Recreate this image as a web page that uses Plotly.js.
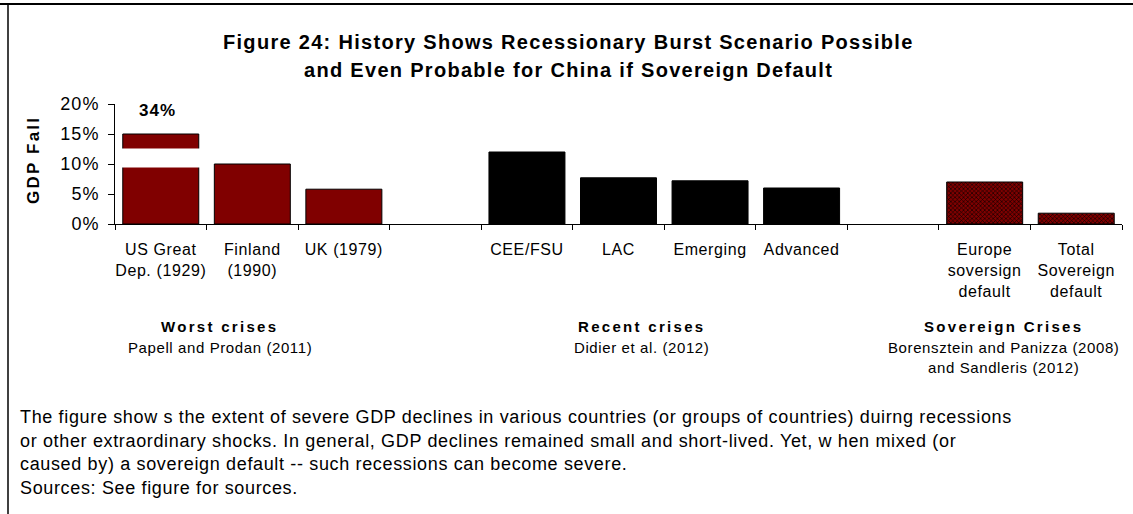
<!DOCTYPE html>
<html>
<head>
<meta charset="utf-8">
<script src="https://cdn.plot.ly/plotly-3.0.1.min.js"></script>
<style>
html,body{margin:0;padding:0;background:#fff;}
#chart{width:1133px;height:514px;}
#chart .xtick text{letter-spacing:0.6px;}
#chart .ytick text{letter-spacing:1px;}
</style>
</head>
<body>
<div id="chart"></div>
<script>
// ---- data ----
var categories = ["US Great<br>Dep. (1929)", "Finland<br>(1990)", "UK (1979)", " ",
  "CEE/FSU", "LAC", "Emerging", "Advanced", "  ",
  "Europe<br>soversign<br>default", "Total<br>Sovereign<br>default"];

var worstCats = ["US Great<br>Dep. (1929)", "Finland<br>(1990)", "UK (1979)"];
var worstVals = [15, 10, 5.8];          // US bar is truncated (true value 34%)
var worstLabels = ["34%", "", ""];

var recentCats = ["CEE/FSU", "LAC", "Emerging", "Advanced"];
var recentVals = [12, 7.7, 7.2, 6.0];

var sovCats = ["Europe<br>soversign<br>default", "Total<br>Sovereign<br>default"];
var sovVals = [7.0, 1.8];

var yTicks = [0, 5, 10, 15, 20];

var groupTitles = ["Worst crises", "Recent crises", "Sovereign Crises"];
var groupSources = ["Papell and Prodan (2011)", "Didier et al. (2012)",
  "Borensztein and Panizza (2008)<br>and Sandleris (2012)"];

var titleLines = ["Figure 24: History Shows Recessionary Burst Scenario Possible",
  "and Even Probable for China if Sovereign Default"];

var noteLines = [
  "The figure show s the extent of severe GDP declines in various countries (or groups of countries) duirng recessions",
  "or other extraordinary shocks. In general, GDP declines remained small and short-lived. Yet, w hen mixed (or",
  "caused by) a sovereign default -- such recessions can become severe.",
  "Sources: See figure for sources."
];

// ---- styling ----
var FONT = "Arial, 'Liberation Sans', sans-serif";
var RED = "#800000";
function sp(t, px) { return '<span style="letter-spacing:' + px + 'px">' + t + '</span>'; }

var traces = [
  {type: "bar", x: worstCats, y: worstVals, marker: {color: RED, line: {color: "#000", width: 1}},
   hoverinfo: "x+y"},
  {type: "bar", x: recentCats, y: recentVals, marker: {color: "#000", line: {color: "#000", width: 1}},
   hoverinfo: "x+y"},
  {type: "bar", x: sovCats, y: sovVals,
   marker: {color: RED, line: {color: "#000", width: 1},
            pattern: {shape: "x", fgcolor: "#000", bgcolor: RED, size: 3, solidity: 0.35}},
   hoverinfo: "x+y"}
];

var annotations = [];
// title
var TITLE_X = (568 - 115) / 1007;
annotations.push({xref: "paper", yref: "paper", x: TITLE_X, y: 1, yshift: 62, xanchor: "center", yanchor: "middle",
  text: sp(titleLines[0], 1.3), showarrow: false, font: {family: FONT, size: 20, color: "#000", weight: "bold"}});
annotations.push({xref: "paper", yref: "paper", x: TITLE_X, y: 1, yshift: 34, xanchor: "center", yanchor: "middle",
  text: sp(titleLines[1], 1.3), showarrow: false, font: {family: FONT, size: 20, color: "#000", weight: "bold"}});
// y title
annotations.push({xref: "paper", yref: "paper", x: 0, xshift: -82, y: 0.5, yshift: 4, xanchor: "center", yanchor: "middle",
  text: sp("GDP Fall", 2.2), textangle: -90,
  showarrow: false, font: {family: FONT, size: 17, color: "#000", weight: "bold"}});
// bar labels
worstLabels.forEach(function (t, i) {
  if (t) annotations.push({x: worstCats[i], y: 20, yref: "y", xref: "x", yshift: -6, xshift: -3,
    xanchor: "center", yanchor: "middle", text: sp(t, 1), showarrow: false,
    font: {family: FONT, size: 17, color: "#000", weight: "bold"}});
});
// group labels
var groupX = [(219.5 - 115) / 1007, (641 - 115) / 1007, (1003 - 115) / 1007];
groupTitles.forEach(function (t, i) {
  annotations.push({xref: "paper", yref: "paper", x: groupX[i], y: 0, yshift: -102, text: sp(t, 2.3), showarrow: false,
    xanchor: "center", yanchor: "middle", font: {family: FONT, size: 15, color: "#000", weight: "bold"}});
  annotations.push({xref: "paper", yref: "paper", x: groupX[i], y: 0, yshift: -113, text: sp(groupSources[i], 0.6),
    showarrow: false, xanchor: "center", yanchor: "top", valign: "top",
    font: {family: FONT, size: 15, color: "#000"}});
});
// notes
noteLines.forEach(function (t, i) {
  annotations.push({xref: "paper", yref: "paper", x: 0, xshift: -97, y: 0, yshift: -193 - 23.5 * i, text: sp(t, 0.65),
    showarrow: false, xanchor: "left", yanchor: "middle", align: "left",
    font: {family: FONT, size: 18, color: "#000"}});
});

var layout = {
  width: 1133, height: 514,
  margin: {l: 115, r: 11, t: 104, b: 290},
  paper_bgcolor: "#fff", plot_bgcolor: "#fff",
  showlegend: false,
  barmode: "overlay",
  bargap: 0.17,
  font: {family: FONT, color: "#000"},
  xaxis: {type: "category", categoryorder: "array", categoryarray: categories,
    tickson: "boundaries", ticks: "outside", ticklen: 5, tickcolor: "#000", tickangle: 0,
    showline: true, linecolor: "#000", linewidth: 1, showgrid: false, zeroline: false,
    tickfont: {family: FONT, size: 16, color: "#000"}, ticklabelstandoff: 11, fixedrange: true},
  yaxis: {range: [0, 20], tickvals: yTicks, ticktext: yTicks.map(function (v) { return v + "%"; }),
    ticks: "outside", ticklen: 6, tickcolor: "#000", showline: true, linecolor: "#000", linewidth: 1,
    showgrid: false, zeroline: false, tickfont: {family: FONT, size: 18, color: "#000"},
    ticklabelstandoff: 5, fixedrange: true},
  annotations: annotations,
  shapes: [
    // axis break on the truncated US bar
    {type: "rect", xref: "x", yref: "y", x0: -0.46, x1: 0.46, y0: 9.4, y1: 12.6,
     fillcolor: "#fff", line: {width: 0}, layer: "above"},
    // frame: top and left lines
    {type: "line", xref: "paper", yref: "paper", x0: -115 / 1007, x1: 1.02, y0: 1 + 100 / 120, y1: 1 + 100 / 120,
     line: {color: "#000", width: 2}},
    {type: "line", xref: "paper", yref: "paper", x0: -107 / 1007, x1: -107 / 1007, y0: 1 + 100 / 120, y1: -300 / 120,
     line: {color: "#000", width: 1.5}}
  ]
};

Plotly.newPlot("chart", traces, layout, {displayModeBar: false, staticPlot: true});
</script>
</body>
</html>
